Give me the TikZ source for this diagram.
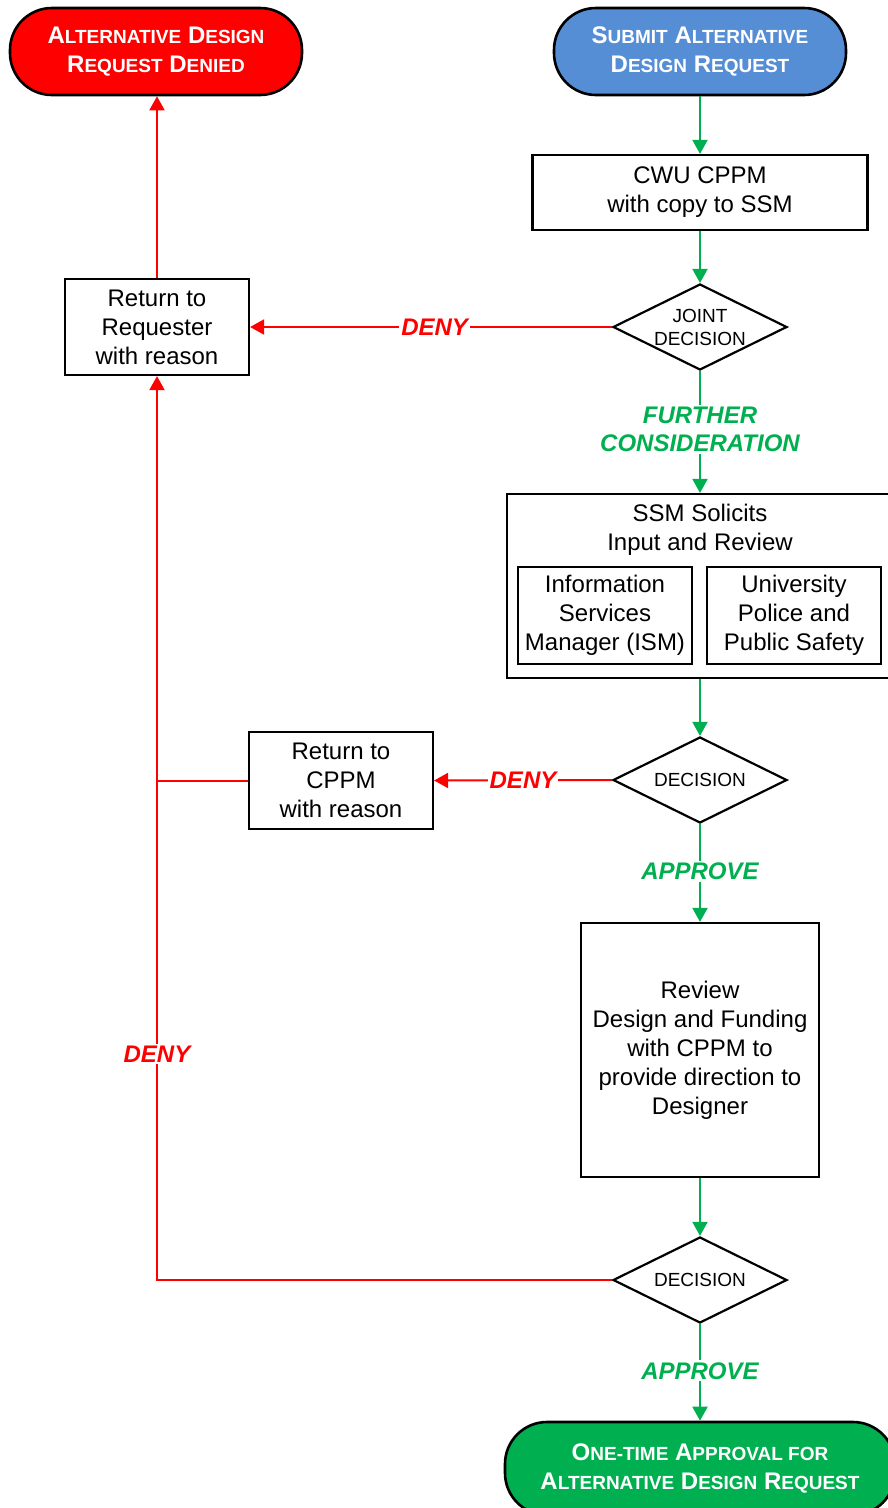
\documentclass[tikz,border=0pt]{standalone}
\usepackage{fontspec}
\setmainfont{Liberation Sans}
\usetikzlibrary{arrows.meta,shapes.geometric}
\definecolor{cred}{HTML}{FF0000}
\definecolor{cgreen}{HTML}{00B050}
\definecolor{cblue}{HTML}{558ED5}
\newcommand\BigL[1]{{\fontsize{24}{29}\selectfont #1}}
\newcommand\SmL[1]{{\fontsize{19}{29}\selectfont #1}}
\begin{document}
\begin{tikzpicture}[x=1pt,y=-1pt,
  box/.style={draw=black, line width=2.2pt, fill=white, align=center, font=\fontsize{24}{29}\selectfont, inner sep=0pt},
  term/.style={draw=black, line width=2.6pt, rounded corners=42pt, minimum width=292pt, minimum height=87pt, align=center, text=white, font=\fontsize{24}{29}\selectfont\bfseries, inner sep=0pt},
  dec/.style={diamond, draw=black, line width=2.2pt, fill=white, aspect=2, minimum width=174pt, minimum height=86pt, inner sep=0pt, align=center, font=\fontsize{19}{23}\selectfont},
  gline/.style={draw=cgreen, line width=2pt},
  rline/.style={draw=cred, line width=2pt},
  tip/.style={-{Triangle[length=14pt,width=15pt]}},
  glab/.style={fill=white, text=cgreen, font=\fontsize{24}{28}\selectfont\bfseries\itshape, inner sep=2pt, align=center},
  rlab/.style={fill=white, text=cred, font=\fontsize{24}{28}\selectfont\bfseries\itshape, inner sep=2pt},
  plain/.style={align=center, font=\fontsize{24}{29}\selectfont, inner sep=0pt}
]
\useasboundingbox (0,0) rectangle (888,1508);
\clip (0,0) rectangle (888,1508);
\fill[white] (0,0) rectangle (888,1508);

% terminals
\node[term, fill=cred] (denied) at (156,51.5) {\BigL{A}\SmL{LTERNATIVE} \BigL{D}\SmL{ESIGN}\\\BigL{R}\SmL{EQUEST} \BigL{D}\SmL{ENIED}};
\node[term, fill=cblue] (submit) at (700,51.5) {\BigL{S}\SmL{UBMIT} \BigL{A}\SmL{LTERNATIVE}\\\BigL{D}\SmL{ESIGN} \BigL{R}\SmL{EQUEST}};

% process boxes
\node[box, minimum width=335pt, minimum height=75pt] (cwu) at (700,192.5) {CWU CPPM\\with copy to SSM};
\node[dec] (joint) at (700,327) {JOINT\\DECISION};
\node[box, minimum width=184pt, minimum height=96pt] (ret1) at (157,327) {Return to\\Requester\\with reason};

\node[box, minimum width=386pt, minimum height=184pt] (ssm) at (700,586) {};
\node[plain] (ssmt) at (700,529.5) {SSM Solicits\\Input and Review};
\node[box, minimum width=174pt, minimum height=97pt] (ism) at (605,615.5) {Information\\Services\\Manager (ISM)};
\node[box, minimum width=174pt, minimum height=97pt] (upps) at (794,615.5) {University\\Police and\\Public Safety};

\node[dec] (dec2) at (700,780) {DECISION};
\node[box, minimum width=184pt, minimum height=97pt] (ret2) at (341,780.5) {Return to\\CPPM\\with reason};

\node[box, minimum width=238pt, minimum height=254pt] (rev) at (700,1050) {Review\\Design and Funding\\with CPPM to\\provide direction to\\Designer};
\node[dec] (dec3) at (700,1280) {DECISION};

\node[term, fill=cgreen, minimum width=390pt, minimum height=93pt] (final) at (700,1468.5) {\BigL{O}\SmL{NE-TIME} \BigL{A}\SmL{PPROVAL FOR}\\\BigL{A}\SmL{LTERNATIVE} \BigL{D}\SmL{ESIGN} \BigL{R}\SmL{EQUEST}};

% green connectors
\draw[gline,tip] (submit.south) -- (cwu.north);
\draw[gline,tip] (cwu.south) -- (joint.north);
\draw[gline,tip] (joint.south) -- (joint.south |- ssm.north) node[glab, pos=0.48] (fc) {FURTHER\\CONSIDERATION};
\draw[gline,tip] (ssm.south) -- (dec2.north);
\draw[gline,tip] (dec2.south) -- (rev.north) node[glab, pos=0.48] (ap1) {APPROVE};
\draw[gline,tip] (rev.south) -- (dec3.north);
\draw[gline,tip] (dec3.south) -- (final.north) node[glab, pos=0.485] (ap2) {APPROVE};

% red connectors
\draw[rline,tip] (joint.west) -- (ret1.east) node[rlab, pos=0.49] (deny1) {DENY};
\draw[rline,tip] (ret1.north) -- (ret1.north |- denied.south);
\draw[rline,tip] (dec2.west) -- (ret2.east) node[rlab, pos=0.5] (deny2) {DENY};
\draw[rline] (ret2.west) -- (ret2.west -| ret1.south);
\draw[rline,tip] (dec3.west) -| (ret1.south) node[rlab, pos=0.625] (deny3) {DENY};
\end{tikzpicture}
\end{document}
